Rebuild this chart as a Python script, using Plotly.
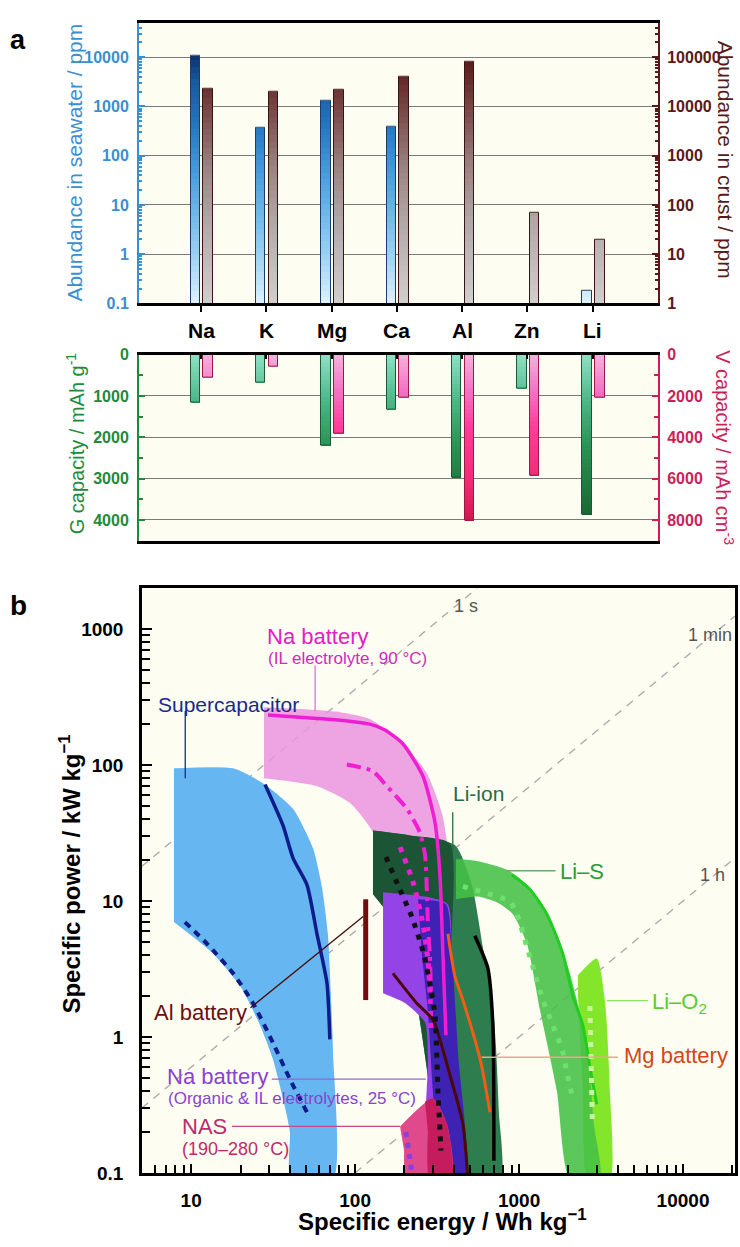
import numpy as np
import plotly.graph_objects as go
from plotly.colors import sample_colorscale

# ---------------- panel a data ----------------
categories = ["Na", "K", "Mg", "Ca", "Al", "Zn", "Li"]
seawater_ppm = [10500, 370, 1320, 390, None, None, 0.18]
crust_ppm = [23000, 20000, 22000, 41000, 82000, 70, 20]
g_capacity = [1165, 685, 2205, 1335, 2980, 820, 3860]
v_capacity = [1130, 590, 3835, 2075, 8050, 5850, 2060]
sea_ticks = [0.1, 1, 10, 100, 1000, 10000]
crust_ticks = [1, 10, 100, 1000, 10000, 100000]
g_ticks = [0, 1000, 2000, 3000, 4000]
v_ticks = [0, 2000, 4000, 6000, 8000]

# ---------------- panel b data (energy Wh/kg, power kW/kg) ----------------
sc_region_E = [7.85, 18, 27.4, 41.8, 55.3, 62.8, 68.2, 71.1, 73.3, 73.3, 40.6, 40.0, 36.3, 31.5, 26.3, 19.9, 13.6, 7.85]
sc_region_P = [94.6, 94.6, 73.6, 47.7, 24.5, 12.6, 5.74, 2.1, 0.77, 0.09, 0.09, 0.2, 0.353, 0.69, 1.22, 2.37, 4.1, 7.0]
sc_solid_E = [28.2, 36.3, 41.8, 50.8, 58.5, 67.3, 70.1]
sc_solid_P = [72, 36, 20.7, 13.2, 5.74, 2.49, 0.96]
sc_dash_E = [9.16, 12.5, 18.0, 23.8, 31.5, 40, 50.8]
sc_dash_P = [7.0, 4.85, 2.94, 1.78, 0.91, 0.49, 0.28]

naIL_region_E = [27.8, 46, 80.7, 123, 195, 274, 338, 368, 389, 152, 128.5, 93, 58.5, 27.8]
naIL_region_P = [266, 258, 245, 218, 144, 87, 44.7, 24.5, 13.2, 13.2, 32, 52.7, 70, 80]
naIL_solid_E = [29.4, 46, 80.7, 123, 152, 195, 259, 307, 329, 343, 358]
naIL_solid_P = [233, 225, 214, 200, 181, 144, 83, 37.8, 15.6, 4.1, 1.03]
naIL_dashdot_E = [89, 128.5, 156, 207, 248, 267, 278, 286, 290]
naIL_dashdot_P = [101, 90, 70, 47.7, 32, 21.8, 6.8, 3.9, 2.1]
naIL_dot_E = [188, 225, 259, 278, 286, 290]
naIL_dot_P = [24.9, 13.9, 6.8, 3.65, 2.1, 1.08]

liion_outer_E = [128.5, 216, 406, 515, 601, 683, 722, 753, 764, 329, 286, 232, 175, 128.5]
liion_outer_P = [33, 30.4, 25.8, 13.2, 4.6, 2.0, 0.87, 0.28, 0.09, 0.09, 0.4, 2.1, 6.8, 11.2]
liion_inner_E = [128.5, 216, 378, 389, 406, 329, 286, 232, 175, 128.5]
liion_inner_P = [33, 30.4, 26.6, 4.85, 0.09, 0.09, 0.4, 2.1, 6.8, 11.2]
liion_solid_E = [537, 645, 692, 702]
liion_solid_P = [5.55, 3.2, 1.22, 0.123]
liion_dot_E = [154, 182, 222, 259, 286, 307, 320, 334]
liion_dot_P = [21.1, 13.2, 7.6, 4.3, 2.49, 1.44, 0.40, 0.146]

naorg_region_E = [148, 201, 286, 368, 389, 406, 424, 278, 278, 267, 201, 148]
naorg_region_P = [11.6, 11.2, 10.6, 9.46, 4.1, 0.91, 0.09, 0.09, 0.70, 1.28, 1.78, 2.1]
naorg_core_E = [242, 358, 389, 424, 467, 329, 298, 278, 255]
naorg_core_P = [10.3, 9.46, 4.1, 0.77, 0.09, 0.09, 0.40, 1.51, 4.1]
naorg_dark_E = [170, 237, 298, 378, 454, 488]
naorg_dark_P = [2.94, 1.78, 1.34, 0.53, 0.23, 0.09]

nas_region_E = [188, 298, 363, 389, 207, 199]
nas_region_P = [0.22, 0.353, 0.23, 0.09, 0.09, 0.146]
nas_core_E = [267, 298, 363, 389, 286, 278]
nas_core_P = [0.336, 0.353, 0.23, 0.09, 0.09, 0.2]
nas_dot_E = [204, 222]
nas_dot_P = [0.2, 0.1]

al_E = [116, 116]
al_P = [10.3, 1.87]
mg_E = [368, 406, 454, 537, 593, 664]
mg_P = [5.74, 2.80, 1.87, 0.96, 0.60, 0.28]

lis_region_E = [412, 553, 844, 1117, 1397, 1700, 2042, 2350, 2630, 2858, 3110, 2042, 1700, 1340, 1117, 916, 732, 561, 412]
lis_region_P = [20.4, 19.7, 17.0, 13.2, 9.0, 5.74, 2.94, 1.51, 0.77, 0.23, 0.09, 0.09, 0.40, 1.59, 4.85, 8.0, 9.78, 10.8, 10.3]
lis_solid_E = [904, 1164, 1479, 1849, 2128, 2449, 2704, 2979]
lis_solid_P = [15.6, 12.2, 8.0, 4.1, 2.0, 1.22, 0.60, 0.32]
lis_dot_E = [454, 577, 732, 879, 970, 1117, 1248, 1397, 1607, 1849, 1954, 2128]
lis_dot_P = [12.8, 11.8, 10.8, 9.95, 8.0, 4.6, 2.94, 1.87, 1.22, 0.77, 0.55, 0.353]

lio2_region_E = [2285, 2979, 3336, 3580, 3580, 2630, 2449, 2285]
lio2_region_P = [2.85, 3.78, 1.87, 0.40, 0.09, 0.09, 0.40, 2.1]
lio2_dot_E = [2704, 2800]
lio2_dot_P = [1.69, 0.23]

time_1s_E, time_1s_P = [5, 555], [18, 2000]
time_1min_E, time_1min_P = [5, 20800], [0.3, 1248]
time_1h_E, time_1h_P = [100, 20800], [0.1, 20.8]

lead_sc_E, lead_sc_P = [9.2, 9.2], [250, 80]
lead_naIL_E, lead_naIL_P = [57, 57], [540, 250]
lead_liion_E, lead_liion_P = [394, 394], [45, 23]
lead_lis_E, lead_lis_P = [840, 1670], [16.7, 16.7]
lead_lio2_E, lead_lio2_P = [3430, 6100], [1.85, 1.85]
lead_mg_E, lead_mg_P = [590, 4000], [0.71, 0.71]
lead_al_E, lead_al_P = [23, 112], [1.64, 7.7]
lead_naorg_E, lead_naorg_P = [31, 270], [0.49, 0.49]
lead_nas_E, lead_nas_P = [17.7, 188], [0.22, 0.22]

# ---------------- layout helpers ----------------
W, H = 740, 1247
FONT = "Liberation Sans, Arial, Helvetica, sans-serif"
BLUE, MAROON, GREEN, CRIMSON = "#3a8fd0", "#5a1818", "#1e8a3c", "#cc1f5a"
GRID = "#7a7a7a"


def fx(px):
    return px / W


def fy(py):
    return 1 - py / H


fig = go.Figure()

# ---------------- panel a: gradient bars ----------------
BW = 0.145
xi = list(range(len(categories)))
x_left = [i - 0.085 for i in xi]
x_right = [i + 0.11 for i in xi]

SEA_RANGE = [-1, 4.7]
CRUST_RANGE = [0, 5.7]
G_MAX, V_MAX = 4520, 9040

sea_scale = [[0, "#e2f3fc"], [0.2, "#97cff0"], [0.45, "#4ea2de"], [0.65, "#2375c0"],
             [0.8, "#185a9e"], [0.9, "#0e2f68"], [1, "#0a2250"]]
crust_scale = [[0, "#d2d0d0"], [0.3, "#b1a9a9"], [0.5, "#9a8282"], [0.7, "#7a4848"],
               [0.85, "#5e2020"], [1, "#4a1010"]]
g_scale = [[0, "#92e2c8"], [0.25, "#4db88a"], [0.5, "#2a9252"], [0.85, "#1a6a32"], [1, "#145a28"]]
v_scale = [[0, "#f6b4de"], [0.2, "#f274c4"], [0.4, "#ff3c9a"], [0.7, "#f02a72"], [0.9, "#d0184c"], [1, "#c0143e"]]


def add_gradient_bars(xs, values, levels, frac, scale, xa, ya, outline):
    cols = sample_colorscale(scale, [float(np.clip(frac(l), 0, 1)) for l in levels])
    for k in sorted(range(len(levels)), key=lambda j: -levels[j]):
        lev = levels[k]
        ys = [None if v is None else min(v, lev) for v in values]
        fig.add_trace(go.Bar(x=xs, y=ys, width=BW, xaxis=xa, yaxis=ya,
                             marker=dict(color=cols[k], line=dict(width=0)),
                             showlegend=False, hoverinfo="skip"))
    fig.add_trace(go.Bar(x=xs, y=values, width=BW, xaxis=xa, yaxis=ya,
                         marker=dict(color="rgba(0,0,0,0)", line=dict(color=outline, width=1)),
                         showlegend=False, hoverinfo="skip"))


NL = 45
sea_levels = list(np.logspace(SEA_RANGE[0], SEA_RANGE[1], NL + 1)[1:])
crust_levels = list(np.logspace(CRUST_RANGE[0], CRUST_RANGE[1], NL + 1)[1:])
g_levels = list(np.linspace(0, G_MAX, NL + 1)[1:])
v_levels = list(np.linspace(0, V_MAX, NL + 1)[1:])

add_gradient_bars(x_left, seawater_ppm, sea_levels,
                  lambda l: (np.log10(l) - SEA_RANGE[0]) / (SEA_RANGE[1] - SEA_RANGE[0]),
                  sea_scale, "x", "y", "#1b3c6e")
add_gradient_bars(x_right, crust_ppm, crust_levels,
                  lambda l: (np.log10(l) - CRUST_RANGE[0]) / (CRUST_RANGE[1] - CRUST_RANGE[0]),
                  crust_scale, "x", "y2", "#3a1414")
add_gradient_bars(x_left, g_capacity, g_levels, lambda l: l / G_MAX, g_scale, "x2", "y3", "#1a5a34")
add_gradient_bars(x_right, v_capacity, v_levels, lambda l: l / V_MAX, v_scale, "x2", "y4", "#9c1648")

# ---------------- panel b ----------------
def region(E, P, color, opacity=1.0, smooth=0.6):
    fig.add_trace(go.Scatter(x=E, y=P, xaxis="x3", yaxis="y5", mode="lines", fill="toself",
                             fillcolor=color, opacity=opacity,
                             line=dict(width=0, shape="spline", smoothing=smooth),
                             showlegend=False, hoverinfo="skip"))


def curve(E, P, color, width=3, dash="solid", smooth=0.6):
    fig.add_trace(go.Scatter(x=E, y=P, xaxis="x3", yaxis="y5", mode="lines",
                             line=dict(color=color, width=width, dash=dash, shape="spline", smoothing=smooth),
                             showlegend=False, hoverinfo="skip"))


for E, P in [(time_1s_E, time_1s_P), (time_1min_E, time_1min_P), (time_1h_E, time_1h_P)]:
    fig.add_trace(go.Scatter(x=E, y=P, xaxis="x3", yaxis="y5", mode="lines",
                             line=dict(color="#a8a8a8", width=1.3, dash="8px,7px"),
                             showlegend=False, hoverinfo="skip"))

region(sc_region_E, sc_region_P, "#66b6f2")
region(naIL_region_E, naIL_region_P, "#eb94df", 0.85)
region(lio2_region_E, lio2_region_P, "#84e62a")
region(liion_outer_E, liion_outer_P, "#2e7d4f")
region(liion_inner_E, liion_inner_P, "#1c5535")
region(lis_region_E, lis_region_P, "#46c046", 0.88)
region(naorg_region_E, naorg_region_P, "#9444e6")
region(naorg_core_E, naorg_core_P, "#3e22b4")
region(nas_region_E, nas_region_P, "#e04a8c")
region(nas_core_E, nas_core_P, "#c41c5c")

curve(sc_solid_E, sc_solid_P, "#0c1c8a", 3.5)
curve(sc_dash_E, sc_dash_P, "#0c1c8a", 4, "7px,6px")
curve(naIL_solid_E, naIL_solid_P, "#f01ed2", 3.5)
curve(naIL_dashdot_E, naIL_dashdot_P, "#f01ed2", 4, "14px,6px,4px,6px")
curve(naIL_dot_E, naIL_dot_P, "#f01ed2", 5, "5px,7px")
curve(naorg_dark_E, naorg_dark_P, "#4a0808", 3)
curve(liion_dot_E, liion_dot_P, "#111111", 5, "5px,7px")
curve(liion_solid_E, liion_solid_P, "#000000", 3.5)
curve(mg_E, mg_P, "#f25c14", 3)
curve(al_E, al_P, "#6e0e0e", 5)
curve(nas_dot_E, nas_dot_P, "#8a3de0", 5, "5px,6px")
curve(lis_solid_E, lis_solid_P, "#22cc22", 3)
curve(lis_dot_E, lis_dot_P, "#6ee06e", 5, "5px,8px")
curve(lio2_dot_E, lio2_dot_P, "#c9f4a0", 5, "5px,7px")

for E, P, c in [(lead_sc_E, lead_sc_P, "#1a2a8c"), (lead_naIL_E, lead_naIL_P, "#e070d8"),
                (lead_liion_E, lead_liion_P, "#2a6a46"), (lead_lis_E, lead_lis_P, "#6aa86a"),
                (lead_lio2_E, lead_lio2_P, "#92e062"), (lead_mg_E, lead_mg_P, "#f0a488"),
                (lead_al_E, lead_al_P, "#4a0a0a"), (lead_naorg_E, lead_naorg_P, "#9466d4"),
                (lead_nas_E, lead_nas_P, "#c44a86")]:
    fig.add_trace(go.Scatter(x=E, y=P, xaxis="x3", yaxis="y5", mode="lines",
                             line=dict(color=c, width=1.3), showlegend=False, hoverinfo="skip"))

# ---------------- axes ----------------
A_DOM_X = [fx(139), fx(658)]
cat_range = [-0.95, 7.0]

def minor_log(lo, hi):
    return [m * 10.0 ** e for e in range(lo, hi) for m in range(2, 10)]

tickfont_a = dict(family=FONT, size=16, weight="bold")

fig.update_layout(
    width=W, height=H, margin=dict(l=0, r=0, t=0, b=0), autosize=False,
    paper_bgcolor="white", plot_bgcolor="#fdfdf2", barmode="overlay", bargap=0,
    font=dict(family=FONT, color="black"),
    xaxis=dict(domain=A_DOM_X, anchor="y", range=cat_range, tickmode="array", tickvals=xi,
               showticklabels=False, ticks="outside", ticklen=6, tickwidth=2, tickcolor="black",
               showline=True, linecolor="black", linewidth=2.5, mirror=True, showgrid=False,
               zeroline=False),
    yaxis=dict(domain=[fy(300), fy(15)], anchor="x", type="log", range=SEA_RANGE,
               tickmode="array", tickvals=sea_ticks, ticktext=[str(t) for t in sea_ticks],
               ticks="inside", ticklen=6, tickwidth=1.5, tickcolor=BLUE,
               minor=dict(ticks="inside", ticklen=3, tickcolor=BLUE, tickmode="array",
                          tickvals=minor_log(-1, 5), showgrid=False),
               showline=True, linecolor=BLUE, linewidth=2, showgrid=True, gridcolor=GRID,
               gridwidth=1.2, zeroline=False, tickfont=dict(tickfont_a, color=BLUE),
               ticklabelstandoff=5),
    yaxis2=dict(overlaying="y", anchor="x", side="right", type="log", range=CRUST_RANGE,
                tickmode="array", tickvals=crust_ticks, ticktext=[str(t) for t in crust_ticks],
                ticks="inside", ticklen=6, tickwidth=1.5, tickcolor=MAROON,
                minor=dict(ticks="inside", ticklen=3, tickcolor=MAROON, tickmode="array",
                           tickvals=minor_log(0, 6), showgrid=False),
                showline=True, linecolor=MAROON, linewidth=2, showgrid=False, zeroline=False,
                tickfont=dict(tickfont_a, color=MAROON), ticklabelstandoff=4),
    xaxis2=dict(domain=A_DOM_X, anchor="y3", side="top", range=cat_range, tickmode="array",
                tickvals=xi, showticklabels=False, ticks="inside", ticklen=5, tickwidth=2,
                tickcolor="black", showline=True, linecolor="black", linewidth=2.5, mirror=True,
                showgrid=False, zeroline=False),
    yaxis3=dict(domain=[fy(541.7), fy(352)], anchor="x2", range=[G_MAX, 0], tickmode="array",
                tickvals=g_ticks, ticktext=[str(t) for t in g_ticks], ticks="inside", ticklen=6,
                tickwidth=1.5, tickcolor=GREEN,
                minor=dict(ticks="inside", ticklen=4, tickcolor=GREEN, dtick=500, showgrid=False),
                showline=True, linecolor=GREEN, linewidth=2, showgrid=True, gridcolor=GRID,
                gridwidth=1.2, zeroline=False, tickfont=dict(tickfont_a, color=GREEN),
                ticklabelstandoff=5),
    yaxis4=dict(overlaying="y3", anchor="x2", side="right", range=[V_MAX, 0], tickmode="array",
                tickvals=v_ticks, ticktext=[str(t) for t in v_ticks], ticks="inside", ticklen=6,
                tickwidth=1.5, tickcolor=CRIMSON,
                minor=dict(ticks="inside", ticklen=4, tickcolor=CRIMSON, dtick=1000, showgrid=False),
                showline=True, linecolor=CRIMSON, linewidth=2, showgrid=False, zeroline=False,
                tickfont=dict(tickfont_a, color=CRIMSON), ticklabelstandoff=4),
    xaxis3=dict(domain=[fx(142), fx(735)], anchor="y5", type="log", range=[0.70, 4.317],
                tickmode="array", tickvals=[10, 100, 1000, 10000],
                ticktext=["10", "100", "1000", "10000"], ticks="inside", ticklen=9, tickwidth=2,
                tickcolor="black",
                minor=dict(ticks="inside", ticklen=8, tickwidth=2, tickcolor="black",
                           tickmode="array", tickvals=minor_log(0, 5), showgrid=False),
                showline=True, linecolor="black", linewidth=2.5, mirror=True, showgrid=False,
                zeroline=False, tickfont=dict(family=FONT, size=19, weight="bold", color="black"),
                ticklabelstandoff=8),
    yaxis5=dict(domain=[fy(1183), fy(589)], anchor="x3", type="log", range=[-1.0, 3.302],
                tickmode="array", tickvals=[0.1, 1, 10, 100, 1000],
                ticktext=["0.1", "1", "10", "100", "1000"], ticks="inside", ticklen=10,
                tickwidth=2, tickcolor="black",
                minor=dict(ticks="inside", ticklen=8, tickwidth=2, tickcolor="black",
                           tickmode="array", tickvals=minor_log(-1, 3), showgrid=False),
                showline=True, linecolor="black", linewidth=2.5, mirror=True, showgrid=False,
                zeroline=False, tickfont=dict(family=FONT, size=19, weight="bold", color="black"),
                ticklabelstandoff=12),
)

# ---------------- annotations ----------------
ann = []

def text(s, px, py, color="black", size=20, xanchor="left", angle=0, bold=False):
    ann.append(dict(text=("<b>%s</b>" % s) if bold else s, x=fx(px), y=fy(py), xref="paper",
                    yref="paper", xanchor=xanchor, yanchor="middle", showarrow=False,
                    textangle=angle, font=dict(family=FONT, size=size, color=color)))

# category labels between the two halves of panel a
for i, c in zip(xi, categories):
    ann.append(dict(text="<b>%s</b>" % c, x=i, y=fy(327), xref="x", yref="paper",
                    xanchor="center", yanchor="middle", showarrow=False,
                    font=dict(family=FONT, size=21, color="black")))

text("a", 18, 32, size=27, xanchor="center", bold=True)
text("b", 18, 607, size=28, xanchor="center", bold=True)
text("Abundance in seawater / ppm", 75, 157, BLUE, 21, "center", -90)
text("Abundance in crust / ppm", 725, 154, MAROON, 21, "center", 90)
text("G capacity / mAh g<sup>-1</sup>", 75, 442, GREEN, 20, "center", -90)
text("V capacity / mAh cm<sup>-3</sup>", 725, 446, CRIMSON, 20, "center", 90)
text("Specific power / kW kg<sup>\u22121</sup>", 70, 880, "black", 24, "center", -90, True)
text("Specific energy / Wh kg<sup>\u22121</sup>", 442, 1231, "black", 24, "center", 0, True)

text("Na battery", 265, 638, "#e020c8", 22)
text("(IL electrolyte, 90 \u00b0C)", 266, 661, "#d028c0", 17)
text("Supercapacitor", 156, 707, "#1a2a8c", 21)
text("Li-ion", 451, 798, "#2a6a46", 21)
text("Li\u2013S", 558, 877, "#2e9a3a", 22)
text("Li\u2013O<sub>2</sub>", 650, 1010, "#5ccc2c", 22)
text("Mg battery", 622, 1064, "#d04818", 22)
text("Al battery", 152, 1020, "#6a1010", 22)
text("Na battery", 165, 1085, "#8a42d0", 22)
text("(Organic &amp; IL electrolytes, 25 \u00b0C)", 166, 1107, "#8a42d0", 17)
text("NAS", 180, 1136, "#c02a6a", 22)
text("(190\u2013280 \u00b0C)", 180, 1159, "#c02a6a", 18)
text("1 s", 452, 607, "#555555", 18)
text("1 min", 734, 637, "#555555", 18, "right")
text("1 h", 698, 880, "#555555", 18)

fig.update_layout(annotations=ann)
fig.write_html(
    "out.html",
    config={"displayModeBar": False},
    post_script="document.documentElement.style.margin='0';document.body.style.margin='0';"
                "document.body.style.padding='0';document.body.style.overflow='hidden';",
)
